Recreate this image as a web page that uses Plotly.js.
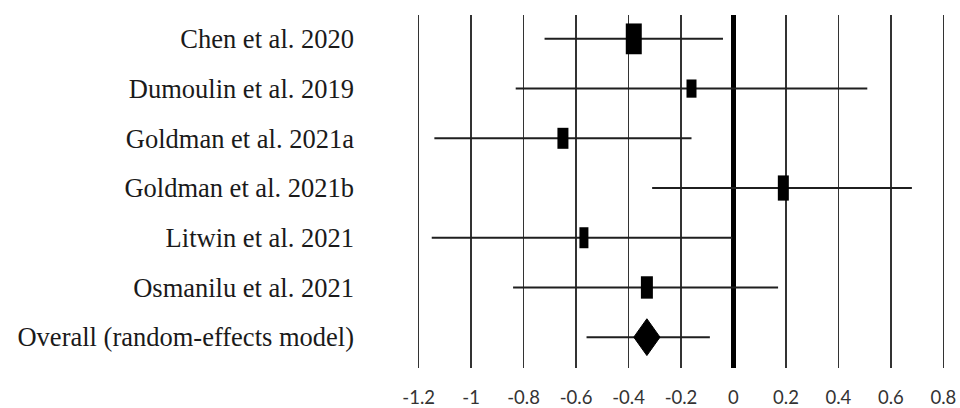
<!DOCTYPE html>
<html>
<head>
<meta charset="utf-8">
<script src="https://cdn.plot.ly/plotly-3.0.1.min.js"></script>
<style>html,body{margin:0;padding:0;background:#fff;}#chart{width:960px;height:408px;}</style>
</head>
<body>
<div id="chart"></div>
<script>
// ---- data ----
const studies = ["Chen et al. 2020", "Dumoulin et al. 2019", "Goldman et al. 2021a",
                 "Goldman et al. 2021b", "Litwin et al. 2021", "Osmanilu et al. 2021"];
const studyEst = [-0.38, -0.16, -0.65, 0.19, -0.57, -0.33];
const studyLo  = [-0.72, -0.83, -1.14, -0.31, -1.15, -0.84];
const studyHi  = [-0.04, 0.51, -0.16, 0.68, -0.005, 0.17];
const overallLabel = "Overall (random-effects model)";
const overallEst = -0.33;
const overallLo = -0.56;
const overallHi = -0.09;
const xTickVals = [-1.2, -1, -0.8, -0.6, -0.4, -0.2, 0, 0.2, 0.4, 0.6, 0.8];
const xTickText = ["-1.2", "-1", "-0.8", "-0.6", "-0.4", "-0.2", "0", "0.2", "0.4", "0.6", "0.8"];

// ---- styles ----
const boxW = [16, 10, 11, 11, 9, 12];   // px
const boxH = [22, 13, 15, 18, 15, 16];  // px
const diamondHalfW = 0.05;   // x units
const diamondHalfH = 0.37;   // row units

const rowLabels = studies.concat([overallLabel]);
const rowIdx = rowLabels.map((_, i) => i);
const studyRows = studies.map((_, i) => i);
const overallRow = studies.length;

const traces = [
  {
    type: 'scatter', mode: 'markers',
    x: studyEst, y: studyRows,
    marker: { symbol: 'line-ns', size: boxH, color: '#000', opacity: 1, line: { width: boxW, color: '#000' } },
    error_x: {
      type: 'data', symmetric: false,
      array: studyHi.map((h, i) => h - studyEst[i]),
      arrayminus: studyLo.map((l, i) => studyEst[i] - l),
      width: 0, thickness: 2, color: '#1f1f1f'
    },
    hoverinfo: 'skip', showlegend: false
  },
  {
    type: 'scatter', mode: 'markers',
    x: [overallEst], y: [overallRow],
    marker: { size: 1, color: 'rgba(0,0,0,0)' },
    error_x: {
      type: 'data', symmetric: false,
      array: [overallHi - overallEst], arrayminus: [overallEst - overallLo],
      width: 0, thickness: 2, color: '#1f1f1f'
    },
    hoverinfo: 'skip', showlegend: false
  },
  {
    type: 'scatter', mode: 'lines', fill: 'toself',
    x: [overallEst, overallEst + diamondHalfW, overallEst, overallEst - diamondHalfW, overallEst],
    y: [overallRow - diamondHalfH, overallRow, overallRow + diamondHalfH, overallRow, overallRow - diamondHalfH],
    fillcolor: '#000', line: { color: '#000', width: 1 },
    hoverinfo: 'skip', showlegend: false
  }
];

const layout = {
  width: 960, height: 408,
  margin: { l: 416, r: 14, t: 15, b: 40 },
  paper_bgcolor: '#fff', plot_bgcolor: '#fff',
  showlegend: false,
  xaxis: {
    range: [-1.21, 0.81],
    tickmode: 'array', tickvals: xTickVals, ticktext: xTickText,
    showgrid: true, gridcolor: '#333', gridwidth: 1.6,
    zeroline: true, zerolinecolor: '#000', zerolinewidth: 4.5,
    showline: false, ticks: '',
    ticklabelstandoff: 16,
    tickfont: { family: 'Lato, "Liberation Sans", sans-serif', size: 18.5, color: '#333' }
  },
  yaxis: {
    range: [6.62, -0.48],
    tickmode: 'array', tickvals: rowIdx, ticktext: rowLabels,
    showgrid: false, zeroline: false, showline: false, ticks: '',
    ticklabelstandoff: 61,
    tickfont: { family: '"Liberation Serif", "DejaVu Serif", serif', size: 26.5, color: '#1a1a1a' }
  }
};

Plotly.newPlot('chart', traces, layout, { staticPlot: true, displayModeBar: false });
</script>
</body>
</html>
